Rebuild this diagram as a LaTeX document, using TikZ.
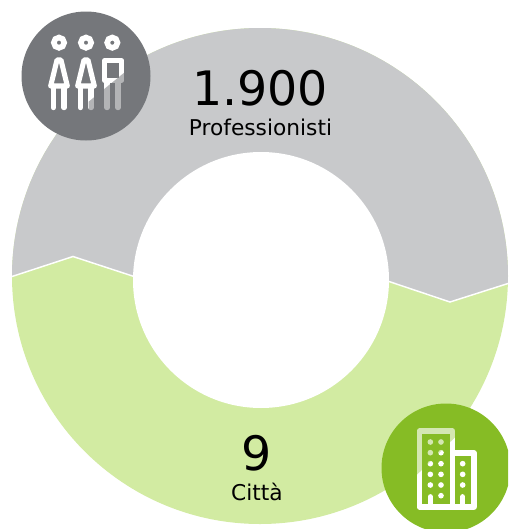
\documentclass[tikz,border=0pt]{standalone}
\usepackage{fontspec}
\setmainfont{DejaVu Sans}
\definecolor{ringgrey}{HTML}{C8C9CB}
\definecolor{ringgreen}{HTML}{D2EBA2}
\definecolor{badgegrey}{HTML}{75777B}
\definecolor{badgegreen}{HTML}{86BC25}
\tikzset{
  ringedge/.style={white,line width=1.1pt},
  iconline/.style={white,line width=3.8pt,line cap=round,line join=round},
  bignum/.style={font=\fontsize{35.6}{40}\selectfont,inner sep=0pt,anchor=base},
  smalllabel/.style={font=\fontsize{16.3}{19}\selectfont,inner sep=0pt,anchor=base}
}
\begin{document}
\begin{tikzpicture}[x=0.75pt,y=-0.75pt]
\useasboundingbox (0,0) rectangle (508,529);
% ring
\begin{scope}
  \clip (0,0) rectangle (508,529);
  \fill[ringgreen] (260,276) circle[radius=248*0.75pt];
  \begin{scope}
    \clip (0,0) -- (0,276.5) -- (12,276.5) -- (73,256.5) -- (134,276.5) -- (389,281.5) -- (450,302) -- (508,283.5) -- (508,0) -- cycle;
    \fill[ringgrey] (260,276) circle[radius=248*0.75pt];
  \end{scope}
  \draw[ringedge] (12,276.5) -- (73,256.5) -- (134,276.5);
  \draw[ringedge] (389,281.5) -- (450,302) -- (508,283.5);
  \fill[white] (261,280) circle[radius=128*0.75pt];
\end{scope}
% grey badge
\fill[badgegrey] (86,76) circle[radius=64.5*0.75pt];
\begin{scope}[shift={(10,0)},x=0.25pt,y=-0.25pt]
  \foreach \cx in {147,228,307} \draw[white,line width=4.2pt] (\cx,128) circle[radius=15.5*0.25pt];
  \foreach \ox in {0,81}{
    \draw[iconline,fill=badgegrey] (141+\ox,180) -- (153+\ox,180) -- (172+\ox,258) -- (122+\ox,258) -- cycle;
    \draw[iconline] (130+\ox,262) -- (130+\ox,323);
    \draw[iconline] (162+\ox,262) -- (162+\ox,323);
  }
  \draw[iconline] (284,182) rectangle (335,241);
  \draw[iconline] (291,241) -- (291,323);
  \draw[iconline] (324,241) -- (324,323);
  \fill[badgegrey,opacity=.55] (236,345) -- (236,305) -- (350,212) -- (350,345) -- cycle;
\end{scope}
% green badge
\begin{scope}
  \clip (0,0) rectangle (508,529);
  \fill[badgegreen] (446,468) circle[radius=64.5*0.75pt];
\end{scope}
\begin{scope}[shift={(370,395)},x=0.25pt,y=-0.25pt]
  \draw[iconline] (248,170) -- (248,108) -- (148,108) -- (148,336) -- (312,336) -- (312,174) -- (248,174) -- (248,336);
  \foreach \dx in {181,213}{
    \foreach \dy in {141,173,206,238,270}{
      \fill[white] (\dx,\dy) circle[radius=8.5*0.25pt];
    }
  }
  \fill[white] (213,302) circle[radius=8.5*0.25pt];
  \foreach \dy in {206,238,270} \fill[white] (278,\dy) circle[radius=8.5*0.25pt];
  \draw[iconline] (181,336) -- (181,305);
  \draw[iconline] (278,336) -- (278,305);
  \fill[badgegreen,opacity=.35] (135,245) -- (135,95) -- (260,95) -- (260,122) -- cycle;
\end{scope}
% texts
\node[bignum] (num1) at (260,105) {1.900};
\node[smalllabel] (lab1) at (260.5,135) {Professionisti};
\node[bignum] (num2) at (257,470) {9};
\node[smalllabel] (lab2) at (257,500) {Città};
\end{tikzpicture}
\end{document}
